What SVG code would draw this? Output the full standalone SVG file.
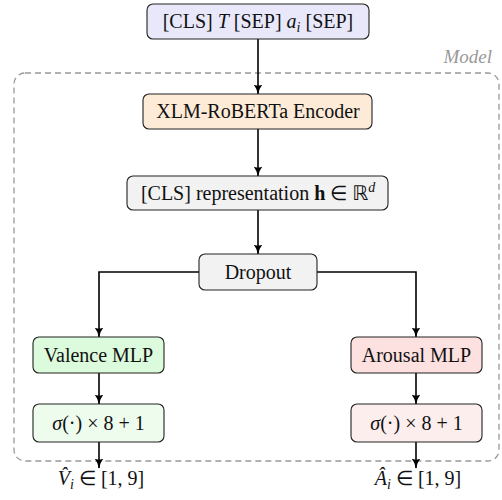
<svg xmlns="http://www.w3.org/2000/svg" width="502" height="500" viewBox="0 0 502 500">
<defs>
<style>
.box{stroke:#222;stroke-width:1.1;}
.t{font-family:"Liberation Serif","Times New Roman",serif;font-size:20px;fill:#111;text-anchor:middle;}
.i{font-style:italic;}
.b{font-weight:bold;}
.conn{fill:none;stroke:#000;stroke-width:1.6;marker-end:url(#arr);}
.model{fill:none;stroke:#999;stroke-width:1.3;stroke-dasharray:6 4;}
</style>
<marker id="arr" viewBox="0 0 10 10" refX="9.5" refY="5" markerWidth="10" markerHeight="10" markerUnits="userSpaceOnUse" orient="auto">
<path d="M0,0.5 Q4,4 10,5 Q4,6 0,9.5 Q2,5 0,0.5 z" fill="#000"/>
</marker>
</defs>
<rect width="502" height="500" fill="#fff"/>
<g id="model-frame">
<rect class="model" x="14" y="73" width="485" height="388" rx="11"/>
<text x="492" y="63" style="font-family:'Liberation Serif','Times New Roman',serif;font-size:19px;font-style:italic;fill:#999;text-anchor:end">Model</text>
</g>
<g id="connectors">
<path class="conn" d="M258,39 V94"/>
<path class="conn" d="M258,129 V176"/>
<path class="conn" d="M258,210 V254"/>
<path class="conn" d="M199,272 H99 V337"/>
<path class="conn" d="M317,272 H416 V337"/>
<path class="conn" d="M99,373 V404"/>
<path class="conn" d="M416,373 V404"/>
<path class="conn" d="M99,442 V468"/>
<path class="conn" d="M416,442 V468"/>
</g>
<g id="input">
<rect class="box" x="147" y="4" width="222" height="35" rx="6" fill="#e8e8fa"/>
<text class="t" x="258" y="28">[CLS] <tspan class="i">T</tspan> [SEP] <tspan class="i">a</tspan><tspan class="i" font-size="14" dy="4">i</tspan><tspan dy="-4"> [SEP]</tspan></text>
</g>
<g id="encoder">
<rect class="box" x="143" y="94" width="229" height="35" rx="6" fill="#fdebd8"/>
<text class="t" x="258" y="118">XLM-RoBERTa Encoder</text>
</g>
<g id="cls-repr">
<rect class="box" x="127" y="176" width="261" height="34" rx="6" fill="#f2f2f2"/>
<text class="t" x="258" y="200">[CLS] representation <tspan class="b">h</tspan> ∈ <tspan font-family="DejaVu Sans">ℝ</tspan><tspan class="i" font-size="14" dy="-8">d</tspan></text>
</g>
<g id="dropout">
<rect class="box" x="199" y="254" width="118" height="36" rx="6" fill="#f2f2f2"/>
<text class="t" x="258" y="279">Dropout</text>
</g>
<g id="valence-mlp">
<rect class="box" x="33" y="337" width="131" height="36" rx="6" fill="#dcfadc"/>
<text class="t" x="98.5" y="362">Valence MLP</text>
</g>
<g id="arousal-mlp">
<rect class="box" x="351" y="337" width="131" height="36" rx="6" fill="#fde0e0"/>
<text class="t" x="416.5" y="362">Arousal MLP</text>
</g>
<g id="valence-sigma">
<rect class="box" x="33" y="404" width="131" height="38" rx="6" fill="#eefcee"/>
<text class="t" x="98.5" y="430"><tspan class="i">σ</tspan>(·) × 8 + 1</text>
</g>
<g id="arousal-sigma">
<rect class="box" x="351" y="404" width="131" height="38" rx="6" fill="#fdeeee"/>
<text class="t" x="416.5" y="430"><tspan class="i">σ</tspan>(·) × 8 + 1</text>
</g>
<g id="valence-out">
<text class="t" x="101" y="485"><tspan class="i">V̂</tspan><tspan class="i" font-size="14" dy="4">i</tspan><tspan dy="-4"> ∈ [1, 9]</tspan></text>
</g>
<g id="arousal-out">
<text class="t" x="418" y="485"><tspan class="i">Â</tspan><tspan class="i" font-size="14" dy="4">i</tspan><tspan dy="-4"> ∈ [1, 9]</tspan></text>
</g>
</svg>
